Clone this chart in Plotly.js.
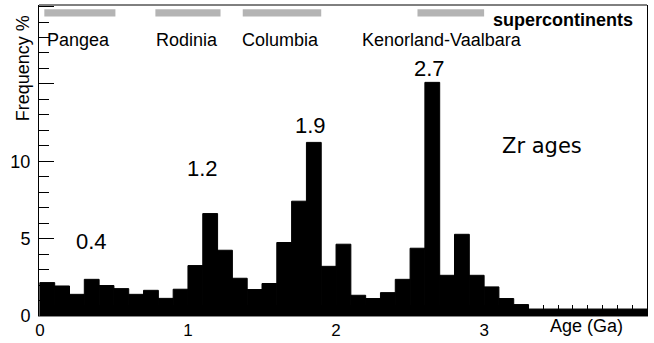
<!DOCTYPE html>
<html>
<head>
<meta charset="utf-8">
<script src="https://cdn.plot.ly/plotly-3.0.1.min.js"></script>
<style>html,body{margin:0;padding:0;background:#fff;}#chart{width:654px;height:343px;}</style>
</head>
<body>
<div id="chart"></div>
<script>
// Histogram bin centres (Ga), 0.1 Ga bins
const ageBins = [0.05,0.15,0.25,0.35,0.45,0.55,0.65,0.75,0.85,0.95,
                 1.05,1.15,1.25,1.35,1.45,1.55,1.65,1.75,1.85,1.95,
                 2.05,2.15,2.25,2.35,2.45,2.55,2.65,2.75,2.85,2.95,
                 3.05,3.15,3.25,3.35,3.45,3.55,3.65,3.75,3.85,3.95,4.05];
// Frequency % per bin
const freq = [2.16,1.94,1.40,2.37,1.97,1.77,1.40,1.66,1.14,1.73,
              3.26,6.62,4.25,2.44,1.71,2.10,4.75,7.42,11.22,3.21,
              4.64,1.34,1.13,1.51,2.37,4.38,15.10,2.63,5.28,2.63,
              1.88,1.13,0.74,0.45,0.45,0.45,0.45,0.45,0.45,0.45,0.45];
// Peak age labels
const peakText = ['0.4','1.2','1.9','2.7'];
const peakX = [0.347,1.095,1.828,2.629];
const peakY = [4.83,9.52,12.32,16.02];
// Supercontinents (age spans, Ga) and label positions
const scNames = ['Pangea','Rodinia','Columbia','Kenorland-Vaalbara'];
const scStart = [0.03,0.78,1.37,2.55];
const scEnd = [0.51,1.22,1.90,3.00];
const scLabelX = [0.259,0.993,1.625,2.715];
// Axis tick labels
const xTickVals = [0,1,2,3];
const yTickVals = [0,5,10];

const FONT = 'Liberation Sans, Arial, sans-serif';

const trace = {
  type: 'bar',
  x: ageBins,
  y: freq,
  marker: {color: '#000000', line: {color: '#000000', width: 1}},
  hoverinfo: 'skip'
};

const shapes = [];
for (let i = 0; i < scNames.length; i++) {
  shapes.push({type: 'rect', xref: 'x', yref: 'y', x0: scStart[i], x1: scEnd[i],
    y0: 19.35, y1: 19.82, fillcolor: '#b4b4b4', line: {width: 0}, layer: 'above'});
}
shapes.push({type: 'line', xref: 'paper', yref: 'paper', x0: 0, x1: 1, y0: 1, y1: 1,
  line: {color: '#000000', width: 1}});

const annotations = [];
for (let i = 0; i < peakText.length; i++) {
  annotations.push({text: peakText[i], x: peakX[i], y: peakY[i], xref: 'x', yref: 'y',
    showarrow: false, xanchor: 'center', yanchor: 'middle',
    font: {family: FONT, size: 22, color: '#000'}});
}
for (let i = 0; i < scNames.length; i++) {
  annotations.push({text: scNames[i], x: scLabelX[i], y: 0.887, xref: 'x', yref: 'paper',
    showarrow: false, xanchor: 'center', yanchor: 'middle',
    font: {family: FONT, size: 18, color: '#000'}});
}
annotations.push({text: '<b>supercontinents</b>', x: 0.862, y: 0.953, xref: 'paper', yref: 'paper',
  showarrow: false, xanchor: 'center', yanchor: 'middle', font: {family: FONT, size: 18, color: '#000'}});
annotations.push({text: 'Zr ages', x: 0.828, y: 0.547, xref: 'paper', yref: 'paper',
  showarrow: false, xanchor: 'center', yanchor: 'middle', font: {family: 'DejaVu Sans, sans-serif', size: 21, color: '#000'}});
annotations.push({text: 'Age (Ga)', x: 0.9, y: -0.032, xref: 'paper', yref: 'paper',
  showarrow: false, xanchor: 'center', yanchor: 'middle', font: {family: FONT, size: 18, color: '#000'}});
annotations.push({text: 'Frequency %', x: -0.026, y: 0.797, xref: 'paper', yref: 'paper',
  showarrow: false, xanchor: 'center', yanchor: 'middle', textangle: -90,
  font: {family: FONT, size: 18, color: '#000'}});

const layout = {
  width: 654, height: 343,
  margin: {l: 39, r: 7, t: 5, b: 27, pad: 0},
  paper_bgcolor: '#ffffff', plot_bgcolor: '#ffffff',
  showlegend: false, bargap: 0,
  xaxis: {
    range: [-0.006, 4.1], showline: true, linecolor: '#888888', linewidth: 1, mirror: false,
    showgrid: false, zeroline: false,
    tickmode: 'array', tickvals: xTickVals, ticktext: xTickVals.map(String),
    ticks: 'inside', ticklen: 11, tickwidth: 1, tickcolor: '#000',
    minor: {ticks: 'inside', ticklen: 11, tickmode: 'linear', tick0: 0, dtick: 0.1, tickcolor: '#000', tickwidth: 1},
    tickfont: {family: FONT, size: 17, color: '#000'}, ticklabelstandoff: -1
  },
  yaxis: {
    range: [0, 20.1], showline: true, linecolor: '#000', linewidth: 1, mirror: true,
    showgrid: false, zeroline: false,
    tickmode: 'linear', tick0: 0, dtick: 5, labelalias: {'15': '', '20': ''},
    ticks: 'inside', ticklen: 15, tickwidth: 1, tickcolor: '#000',
    minor: {ticks: 'inside', ticklen: 10, tickmode: 'linear', tick0: 0, dtick: 1, tickcolor: '#000', tickwidth: 1},
    tickfont: {family: FONT, size: 18, color: '#000'}, ticklabelstandoff: 4
  },
  shapes: shapes,
  annotations: annotations
};

Plotly.newPlot('chart', [trace], layout, {displayModeBar: false, staticPlot: true});
</script>
</body>
</html>
